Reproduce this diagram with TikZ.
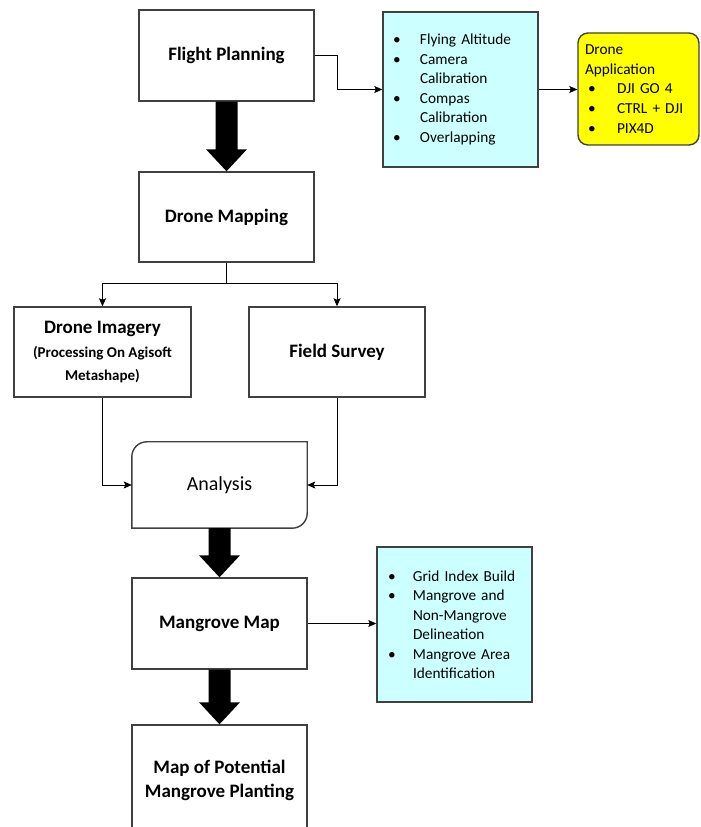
\documentclass[tikz,border=0pt]{standalone}
\usepackage{fontspec}
\setmainfont{Carlito}
\usetikzlibrary{arrows.meta,calc}
\definecolor{edge}{HTML}{404040}
\definecolor{cyanfill}{HTML}{CCFFFF}
\definecolor{yelfill}{HTML}{FFFF00}
\tikzset{
 box/.style={draw=edge, line width=1.4pt, fill=white, minimum width=175pt, minimum height=90pt, inner sep=0pt, align=center, font=\fontsize{19}{23}\selectfont\bfseries},
 listbox/.style={draw=edge, line width=1.4pt, fill=cyanfill, minimum height=155pt, inner xsep=10pt, inner ysep=0pt, text width=135pt, align=left, font=\fontsize{15.3}{19.5}\selectfont},
 conn/.style={draw=black, line width=0.9pt, -{Stealth[length=8pt,width=7pt,inset=1.5pt]}},
 plain/.style={draw=black, line width=0.9pt},
}
\newcommand{\bul}{\makebox[27pt][l]{\textbullet}}
\newcommand{\bulb}{\makebox[25pt][l]{\textbullet}}
\newcommand{\subfont}{\fontsize{15}{23}\selectfont}
\newcommand{\fatarrow}[2]{%
  \fill[black] ($(#1.south)+(-11,0)$) -- ($(#2.north)+(-11,22)$) -- ($(#2.north)+(-20.5,22)$) -- (#2.north) -- ($(#2.north)+(20.5,22)$) -- ($(#2.north)+(11,22)$) -- ($(#1.south)+(11,0)$) -- cycle;}
\begin{document}
\begin{tikzpicture}[x=1pt,y=1pt]
\useasboundingbox (0,0) rectangle (701,827);
\clip (0,0) rectangle (701,827);
\fill[white] (0,0) rectangle (701,827);

\node[box, minimum height=91pt] (fp) at (226.5,771.5) {Flight Planning};
\node[listbox] (b1) at (460.5,737.5) {\bul Flying Altitude\\\bul Camera\\\hspace*{27pt}Calibration\\\bul Compas\\\hspace*{27pt}Calibration\\\bul Overlapping};
\node[draw=edge, line width=1.4pt, fill=yelfill, rounded corners=10pt, minimum height=112pt, inner xsep=7pt, inner ysep=0pt, text width=107pt, align=left, font=\fontsize{15.3}{19.7}\selectfont] (yel) at (638.5,738) {Drone\\Application\\\hspace*{3pt}\makebox[29pt][l]{\textbullet}DJI GO 4\\\hspace*{3pt}\makebox[29pt][l]{\textbullet}CTRL + DJI\\\hspace*{3pt}\makebox[29pt][l]{\textbullet}PIX4D};

\node[box] (dm) at (226.5,610) {Drone Mapping};
\node[box, minimum width=177pt] (di) at (102.5,475) {Drone Imagery\\[1pt]\subfont (Processing On Agisoft\\\subfont Metashape)};
\node[box, minimum width=176pt] (fs) at (337,475) {Field Survey};

\node[minimum width=175pt, minimum height=86pt, inner sep=0pt] (an) at (219.5,342) {};
\draw[draw=edge, line width=1.4pt, fill=white] ($(an.north west)+(15,0)$) -- (an.north east) -- ($(an.south east)+(0,15)$) arc[start angle=0, end angle=-90, radius=15] -- (an.south west) -- ($(an.north west)+(0,-15)$) arc[start angle=180, end angle=90, radius=15] -- cycle;
\node[font=\fontsize{20}{24}\selectfont] (antext) at (an.center) {Analysis};

\node[box, minimum height=91pt] (mm) at (219.5,203.5) {Mangrove Map};
\node[listbox, inner xsep=11pt, text width=133pt] (b2) at (454.5,202.5) {\bulb Grid Index Build\\\bulb Mangrove and\\\hspace*{25pt}Non-Mangrove\\\hspace*{25pt}Delineation\\\bulb Mangrove Area\\\hspace*{25pt}Identification};
\node[box, minimum height=110pt, font=\fontsize{19}{24}\selectfont\bfseries] (mp) at (219.5,47) {Map of Potential\\Mangrove Planting};

\draw[conn] (fp.east) -- ++(23,0) |- (b1.west);
\draw[conn] (b1.east) -- (b1.east -| yel.west);
\fatarrow{fp}{dm}
\draw[plain] (dm.south) -- ++(0,-21) coordinate (br);
\draw[conn] (br) -| (di.north);
\draw[conn] (br) -| (fs.north);
\draw[conn] (di.south) |- (an.west);
\draw[conn] (fs.south) |- (an.east);
\fatarrow{an}{mm}
\draw[conn] (mm.east) -- (mm.east -| b2.west);
\fatarrow{mm}{mp}
\end{tikzpicture}
\end{document}
